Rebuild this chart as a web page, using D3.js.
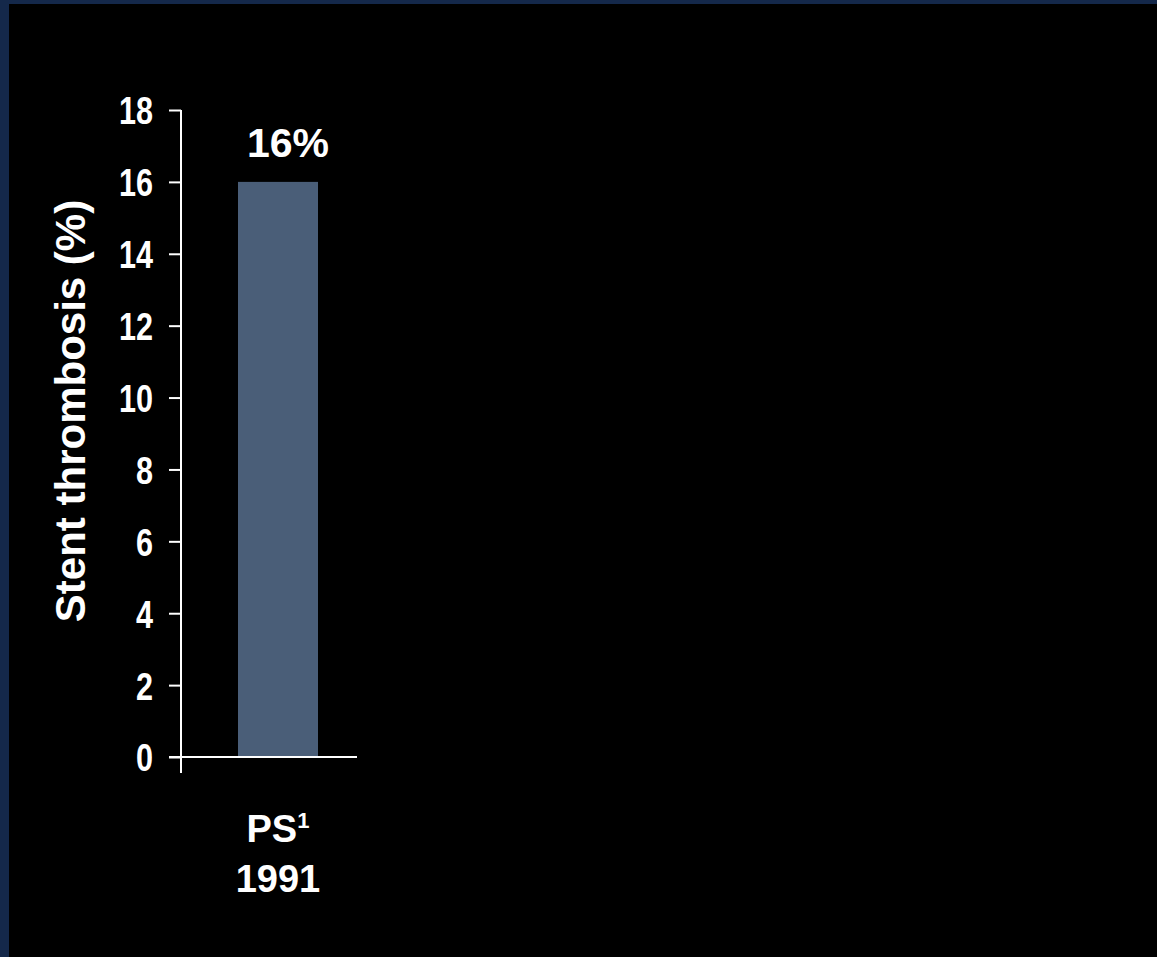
<!DOCTYPE html>
<html>
<head>
<meta charset="utf-8">
<script src="https://cdn.jsdelivr.net/npm/d3@7"></script>
<style>
  html, body { margin: 0; padding: 0; }
  body { width: 1157px; height: 957px; background: #000; overflow: hidden; }
  svg { display: block; }
</style>
</head>
<body>
<script>
// data
const categories = ["PS"];
const categorySup = ["1"];
const categoryYear = ["1991"];
const values = [16];
const valueLabels = ["16%"];
const yTicks = [0, 2, 4, 6, 8, 10, 12, 14, 16, 18];
const yTitle = "Stent thrombosis (%)";

const W = 1157, H = 957;

let svg = d3.select("body").append("svg")
    .attr("width", W)
    .attr("height", H);

// slide frame
svg.append("rect").attr("x", 0).attr("y", 0).attr("width", W).attr("height", H).attr("fill", "#14284a");
svg.append("rect").attr("x", 9).attr("y", 4).attr("width", W - 9).attr("height", H - 4).attr("fill", "#000");

let y = d3.scaleLinear()
    .domain([0, 18])
    .range([757, 110]);

let x = d3.scaleBand()
    .domain(categories)
    .range([181, 375])
    .padding(0.416);

const axisX = 181;
const sx = 0.9, sy = 1.14;

// y axis
let yAxis = svg.append("g")
    .attr("transform", "translate(" + axisX + ",0)")
    .call(d3.axisLeft(y).tickValues(yTicks).tickSize(12).tickPadding(16).tickFormat(d3.format("d")));

yAxis.select(".domain").remove();
yAxis.selectAll(".tick line").attr("stroke", "#fff").attr("stroke-width", 2);
yAxis.selectAll(".tick text")
    .attr("fill", "#fff")
    .attr("x", -28 / sx)
    .attr("dy", "0.36em")
    .attr("transform", "scale(" + sx + "," + sy + ")")
    .style("font-family", "'Liberation Sans', Arial, sans-serif")
    .style("font-weight", "bold")
    .style("font-size", "34px");

svg.append("line")
    .attr("x1", axisX).attr("x2", axisX)
    .attr("y1", y(18)).attr("y2", y(0) + 16)
    .attr("stroke", "#fff").attr("stroke-width", 2);

// x axis line
svg.append("line")
    .attr("x1", axisX - 12).attr("x2", 357)
    .attr("y1", y(0)).attr("y2", y(0))
    .attr("stroke", "#fff").attr("stroke-width", 2);

// bars
svg.selectAll(".bar")
    .data(values)
    .enter()
    .append("rect")
    .attr("class", "bar")
    .attr("x", (d, i) => x(categories[i]))
    .attr("y", d => y(d))
    .attr("width", x.bandwidth())
    .attr("height", d => y(0) - y(d) - 1)
    .attr("fill", "#4a5e78");

// value labels
svg.selectAll(".vlabel")
    .data(values)
    .enter()
    .append("text")
    .attr("class", "vlabel")
    .attr("x", (d, i) => x(categories[i]) + x.bandwidth() / 2 + 10)
    .attr("y", d => y(d) - 25)
    .attr("text-anchor", "middle")
    .attr("fill", "#fff")
    .style("font-family", "'Liberation Sans', Arial, sans-serif")
    .style("font-weight", "bold")
    .style("font-size", "41px")
    .text((d, i) => valueLabels[i]);

// category labels
let cat = svg.selectAll(".clabel")
    .data(categories)
    .enter()
    .append("text")
    .attr("class", "clabel")
    .attr("text-anchor", "middle")
    .attr("fill", "#fff")
    .style("font-family", "'Liberation Sans', Arial, sans-serif")
    .style("font-weight", "bold")
    .style("font-size", "38px");

cat.append("tspan")
    .attr("x", d => x(d) + x.bandwidth() / 2)
    .attr("y", 842)
    .text(d => d)
  .append("tspan")
    .attr("dy", -14)
    .style("font-size", "22px")
    .text((d, i) => categorySup[i]);

cat.append("tspan")
    .attr("x", d => x(d) + x.bandwidth() / 2)
    .attr("y", 892)
    .text((d, i) => categoryYear[i]);

// y title
svg.append("text")
    .attr("transform", "translate(85,411) rotate(-90)")
    .attr("text-anchor", "middle")
    .attr("fill", "#fff")
    .style("font-family", "'Liberation Sans', Arial, sans-serif")
    .style("font-weight", "bold")
    .style("font-size", "42px")
    .text(yTitle);
</script>
</body>
</html>
